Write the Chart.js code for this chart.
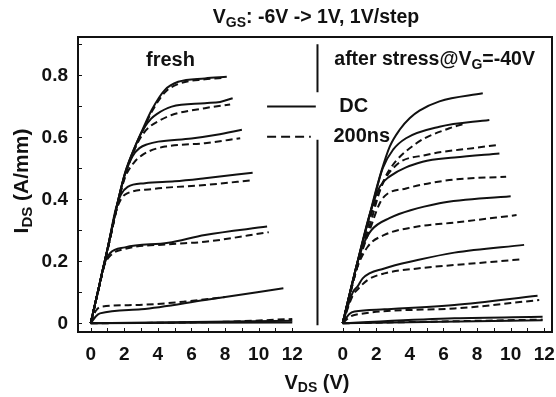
<!DOCTYPE html>
<html>
<head>
<meta charset="utf-8">
<script src="https://cdn.jsdelivr.net/npm/chart.js@4/dist/chart.umd.min.js"></script>
<style>
  html, body { margin: 0; padding: 0; background: #fff; }
  #wrap { width: 556px; height: 397px; position: relative; }
</style>
</head>
<body>
<div id="wrap"><canvas id="ivChart" width="556" height="397"></canvas></div>
<script>
'use strict';
// V_GS steps, top curve first (1V ... -6V)
const vgsSteps = ['1V', '0V', '-1V', '-2V', '-3V', '-4V', '-5V', '-6V'];

// x tick labels (V_DS, V), same for both panels
const vdsTicks = [0, 2, 4, 6, 8, 10, 12];
const idsTicks = [0, 0.2, 0.4, 0.6, 0.8];

// right panel is drawn on the same axis, shifted by this many volts
const panelShift = 15;

// fresh device, DC sweep: [Vds, Ids]
const freshDC = [
  [[0,0],[0.5,0.12],[1.0,0.24],[1.64,0.398],[2.04,0.484],[2.64,0.57],[3.13,0.63],[3.63,0.688],[4.42,0.753],[5.21,0.779],[6.8,0.79],[8.1,0.795]],
  [[0,0],[0.5,0.12],[1.0,0.24],[1.64,0.398],[2.04,0.484],[2.64,0.57],[3.13,0.626],[3.6,0.66],[3.93,0.675],[4.82,0.699],[6.8,0.71],[7.7,0.714],[8.45,0.726]],
  [[0,0],[0.5,0.12],[1.0,0.24],[1.64,0.398],[2.04,0.48],[2.5,0.54],[2.9,0.565],[3.4,0.578],[4.02,0.586],[6.0,0.596],[7.5,0.608],[9.0,0.624]],
  [[0,0],[0.5,0.12],[1.0,0.24],[1.5,0.37],[1.8,0.415],[2.2,0.44],[3.23,0.452],[5.0,0.458],[6.8,0.468],[9.64,0.486]],
  [[0,0],[0.5,0.12],[0.8,0.19],[1.15,0.226],[2.04,0.245],[4.62,0.26],[6.8,0.285],[10.5,0.312]],
  [[0,0],[0.3,0.022],[0.55,0.032],[3.0,0.045],[6.8,0.075],[11.47,0.113]],
  [[0,0],[12,0.008]],
  [[0,0],[12,0.003]]
];

// fresh device, 200ns pulse
const freshPulse = [
  [[0,0],[0.5,0.118],[1.0,0.236],[1.64,0.392],[2.04,0.478],[2.64,0.565],[3.13,0.625],[3.63,0.682],[4.42,0.745],[5.21,0.772],[6.8,0.787],[8.0,0.792]],
  [[0,0],[0.5,0.118],[1.0,0.236],[1.64,0.392],[2.04,0.478],[2.64,0.565],[3.13,0.612],[3.6,0.638],[4.02,0.652],[4.82,0.672],[6.8,0.694],[8.3,0.706]],
  [[0,0],[0.5,0.118],[1.0,0.236],[1.64,0.392],[2.04,0.47],[2.6,0.52],[3.0,0.54],[3.43,0.554],[4.42,0.57],[6.8,0.581],[8.9,0.597]],
  [[0,0],[0.5,0.118],[1.0,0.236],[1.5,0.36],[1.8,0.4],[2.04,0.415],[3.63,0.433],[6.8,0.446],[9.7,0.462]],
  [[0,0],[0.5,0.118],[0.8,0.185],[1.2,0.22],[2.04,0.24],[4.6,0.255],[6.8,0.263],[10.6,0.294]],
  [[0,0],[0.3,0.04],[0.65,0.054],[2.64,0.059],[5.6,0.07],[8.0,0.085]],
  [[0,0],[8.0,0.005],[12,0.014]]
];

// after stress @ VG=-40V, DC sweep
const stressDC = [
  [[0,0],[0.8,0.18],[1.79,0.39],[2.3,0.49],[2.8,0.57],[3.4,0.625],[4.0,0.662],[4.57,0.686],[5.76,0.716],[8.34,0.742]],
  [[0,0],[0.8,0.18],[1.79,0.385],[2.38,0.5],[3.0,0.56],[3.77,0.597],[5.76,0.634],[8.73,0.656]],
  [[0,0],[0.8,0.18],[1.6,0.35],[2.2,0.44],[2.78,0.473],[4.76,0.521],[6.65,0.535],[9.33,0.548]],
  [[0,0],[0.8,0.18],[1.2,0.25],[1.7,0.3],[2.78,0.339],[5.76,0.387],[10.0,0.41]],
  [[0,0],[0.6,0.1],[0.9,0.12],[1.19,0.145],[2.48,0.177],[4.46,0.204],[6.65,0.228],[10.8,0.253]],
  [[0,0],[0.4,0.03],[0.7,0.038],[2.48,0.045],[6.65,0.059],[11.6,0.089]],
  [[0,0],[6.65,0.016],[11.9,0.021]],
  [[0,0],[11.9,0.01]]
];

// after stress, 200ns pulse
const stressPulse = [
  [[0,0],[0.8,0.17],[1.69,0.35],[2.2,0.43],[2.78,0.495],[4.37,0.58],[6.35,0.629],[7.2,0.643]],
  [[0,0],[0.8,0.17],[1.69,0.33],[2.3,0.44],[3.18,0.51],[4.96,0.543],[7.74,0.565],[9.2,0.575]],
  [[0,0],[0.8,0.17],[1.6,0.3],[2.38,0.403],[3.77,0.435],[6.35,0.462],[9.73,0.473]],
  [[0,0],[0.8,0.17],[1.49,0.247],[2.48,0.285],[4.46,0.312],[6.65,0.325],[10.35,0.349]],
  [[0,0],[0.6,0.09],[0.9,0.11],[1.49,0.14],[2.48,0.161],[4.46,0.177],[6.65,0.188],[10.6,0.206]],
  [[0,0],[0.4,0.02],[0.7,0.027],[6.65,0.048],[11.7,0.075]],
  [[0,0],[11.9,0.012]]
];

const ink = '#111';
const fontFam = 'Arial, "Liberation Sans", sans-serif';

function curveSet(curves, shift, dash, tag) {
  return curves.map((pts, i) => ({
    label: tag + ' VGS=' + vgsSteps[i],
    data: pts.map(p => ({ x: p[0] + shift, y: p[1] })),
    borderColor: ink,
    borderWidth: 2,
    borderDash: dash,
    pointRadius: 0,
    fill: false,
    cubicInterpolationMode: 'monotone'
  }));
}

const datasets = [].concat(
  curveSet(freshDC, 0, [], 'fresh DC'),
  curveSet(freshPulse, 0, [7, 4], 'fresh 200ns'),
  curveSet(stressDC, panelShift, [], 'stress DC'),
  curveSet(stressPulse, panelShift, [7, 4], 'stress 200ns')
);

// text with subscripts: parts = [[text, isSub], ...]
function drawSub(ctx, parts, x, y, align, size) {
  const big = 'bold ' + size + 'px ' + fontFam;
  const small = 'bold ' + Math.round(size * 0.72) + 'px ' + fontFam;
  let total = 0;
  parts.forEach(p => { ctx.font = p[1] ? small : big; total += ctx.measureText(p[0]).width; });
  let cx = align === 'center' ? x - total / 2 : x;
  ctx.textBaseline = 'middle';
  ctx.textAlign = 'left';
  parts.forEach(p => {
    ctx.font = p[1] ? small : big;
    ctx.fillText(p[0], cx, p[1] ? y + size * 0.28 : y);
    cx += ctx.measureText(p[0]).width;
  });
}

const decorPlugin = {
  id: 'decor',
  afterDraw(chart) {
    const ctx = chart.ctx;
    const a = chart.chartArea;
    const xs = chart.scales.x;
    const ys = chart.scales.y;
    ctx.save();
    ctx.strokeStyle = ink;
    ctx.fillStyle = ink;
    ctx.setLineDash([]);

    // frame
    ctx.lineWidth = 2;
    ctx.strokeRect(a.left, a.top, a.right - a.left, a.bottom - a.top);

    // minor ticks on the bottom, 1V apart, for each panel
    ctx.lineWidth = 1;
    [0, panelShift].forEach(s => {
      for (let v = 0; v <= 12; v++) {
        const px = Math.round(xs.getPixelForValue(v + s)) + 0.5;
        ctx.beginPath();
        ctx.moveTo(px, a.bottom);
        ctx.lineTo(px, a.bottom - 4);
        ctx.stroke();
      }
    });
    // ticks on the left
    for (let v = 0; v <= 0.9; v += 0.1) {
      const py = Math.round(ys.getPixelForValue(v)) + 0.5;
      ctx.beginPath();
      ctx.moveTo(a.left, py);
      ctx.lineTo(a.left + 4, py);
      ctx.stroke();
    }

    // separator between panels (broken by legend)
    const sepX = xs.getPixelForValue(13.5);
    ctx.lineWidth = 2;
    ctx.beginPath();
    ctx.moveTo(sepX, ys.getPixelForValue(0.9));
    ctx.lineTo(sepX, ys.getPixelForValue(0.745));
    ctx.moveTo(sepX, ys.getPixelForValue(0.592));
    ctx.lineTo(sepX, ys.getPixelForValue(-0.006));
    ctx.stroke();

    // legend
    const lx0 = xs.getPixelForValue(10.5);
    const lx1 = xs.getPixelForValue(13.4);
    const dcY = ys.getPixelForValue(0.699);
    const puY = ys.getPixelForValue(0.602);
    ctx.lineWidth = 2;
    ctx.beginPath();
    ctx.moveTo(lx0, dcY); ctx.lineTo(lx1, dcY);
    ctx.stroke();
    ctx.setLineDash([9, 5]);
    ctx.beginPath();
    ctx.moveTo(lx0, puY); ctx.lineTo(lx1 - 5, puY);
    ctx.stroke();
    ctx.setLineDash([]);
    drawSub(ctx, [['DC', false]], xs.getPixelForValue(14.8), dcY, 'left', 20);
    drawSub(ctx, [['200ns', false]], xs.getPixelForValue(14.45), puY, 'left', 20);

    // panel labels
    const labY = a.top + 23;
    drawSub(ctx, [['fresh', false]], xs.getPixelForValue(4.75), labY, 'center', 20);
    drawSub(ctx, [['after stress@V', false], ['G', true], ['=-40V', false]],
      xs.getPixelForValue(14.5), labY, 'left', 19.5);

    // chart title
    drawSub(ctx, [['V', false], ['GS', true], [': -6V -> 1V, 1V/step', false]],
      316, 18, 'center', 19.5);

    // axis titles
    drawSub(ctx, [['V', false], ['DS', true], [' (V)', false]], 317, 383, 'center', 20);
    ctx.save();
    ctx.translate(22, 181);
    ctx.rotate(-Math.PI / 2);
    drawSub(ctx, [['I', false], ['DS', true], [' (A/mm)', false]], 0, 0, 'center', 21);
    ctx.restore();

    ctx.restore();
  }
};

new Chart(document.getElementById('ivChart'), {
  type: 'line',
  data: { datasets: datasets },
  options: {
    responsive: false,
    animation: false,
    devicePixelRatio: 1,
    layout: { padding: { top: 37, right: 4, left: 0, bottom: 0 } },
    plugins: {
      legend: { display: false },
      title: { display: false },
      tooltip: { enabled: false }
    },
    scales: {
      x: {
        type: 'linear',
        min: -0.756,
        max: 27.46,
        grid: { display: false, drawTicks: false },
        border: { display: false },
        afterFit(scale) {
          scale.height = 65;
          scale.paddingLeft = 0;
          scale.paddingRight = 0;
        },
        afterBuildTicks(scale) {
          scale.ticks = vdsTicks.concat(vdsTicks.map(v => v + panelShift)).map(v => ({ value: v }));
        },
        ticks: {
          color: ink,
          padding: 11,
          maxRotation: 0,
          autoSkip: false,
          font: { family: fontFam, size: 19, weight: 'bold' },
          callback: v => String(v >= panelShift - 1 ? v - panelShift : v)
        }
      },
      y: {
        min: -0.028,
        max: 0.9235,
        grid: { display: false, drawTicks: false },
        border: { display: false },
        afterFit(scale) {
          scale.width = 78;
          scale.paddingTop = 0;
          scale.paddingBottom = 0;
        },
        afterBuildTicks(scale) {
          scale.ticks = idsTicks.map(v => ({ value: v }));
        },
        ticks: {
          color: ink,
          padding: 10,
          font: { family: fontFam, size: 19, weight: 'bold' },
          callback: v => (v === 0 ? '0' : v.toFixed(1))
        }
      }
    }
  },
  plugins: [decorPlugin]
});
</script>
</body>
</html>
